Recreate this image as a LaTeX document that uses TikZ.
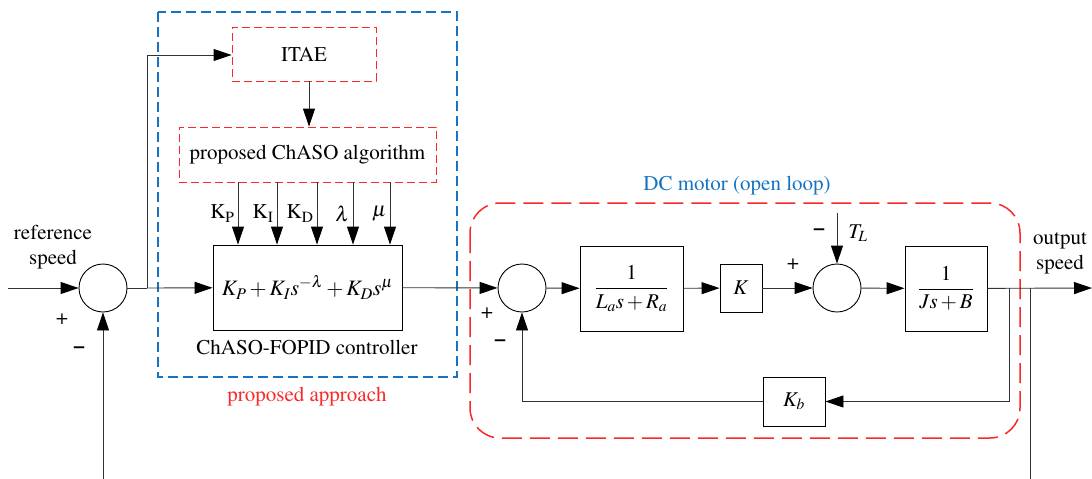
\documentclass[tikz,border=0pt]{standalone}
\usepackage[OT1]{fontenc}
\usepackage{amsmath}
\usepackage{mathptmx}
\usetikzlibrary{calc, positioning}
\usetikzlibrary{arrows.meta}

\definecolor{optred}{RGB}{250,40,40}
\definecolor{motblue}{RGB}{20,115,195}

\tikzset{
  wire/.style={line width=0.9pt, black!80},
  sig/.style={wire, -{Triangle[length=18pt,width=12pt,black]}},
  sumnode/.style={circle, draw, line width=0.9pt, minimum size=48pt, inner sep=0pt},
  blk/.style={draw, line width=0.9pt, inner sep=0pt},
  optbox/.style={draw=optred, line width=0.9pt, dash pattern=on 8pt off 4pt, inner sep=0pt},
}

\begin{document}
\begin{tikzpicture}[x=1pt, y=-1pt, font=\fontsize{21}{25}\selectfont]
\useasboundingbox (0,0) rectangle (1092,479);

% frames
\draw[motblue, line width=1.3pt, dash pattern=on 10pt off 5pt] (158,12) rectangle (457,377);
\draw[optred, line width=1.5pt, dash pattern=on 20pt off 8pt, rounded corners=30pt] (470,203) rectangle (1020,438);

% tuning part
\node[optbox, minimum width=144pt, minimum height=54pt] (itae) at (304,54) {ITAE};
\node[optbox, minimum width=257pt, minimum height=55pt] (algo) at (307.5,154.5) {proposed ChASO algorithm};
\node[blk, minimum width=189pt, minimum height=85pt, font=\fontsize{22}{26}\selectfont] (fopid) at (307.5,287.5)
  {$K_P+K_Is^{-\lambda}+K_Ds^{\mu}$};
\node at (307,347) {ChASO-FOPID controller};
\node[optred] at (307,397) {proposed approach};

% motor
\node[sumnode] (sumA) at (103,288) {};
\node[sumnode] (sumB) at (522,288) {};
\node[sumnode] (sumC) at (837,288) {};
\node[blk, minimum width=103pt, minimum height=85pt] (arm) at (631.5,288.5) {$\dfrac{1}{L_as+R_a}$};
\node[blk, minimum width=42pt, minimum height=48pt] (gainK) at (741,288) {$K$};
\node[blk, minimum width=82pt, minimum height=85pt] (mech) at (946,288.5) {$\dfrac{1}{Js+B}$};
\node[blk, minimum width=62pt, minimum height=49pt] (kb) at (794,401.5) {$K_b$};
\node[motblue] at (737,186) {DC motor (open loop)};

\coordinate (in) at (8,288);
\coordinate (tapA) at (147,288);
\coordinate (up) at (147,55);
\coordinate (tapB) at (1009,288);
\coordinate (tapC) at (1030,288);
\coordinate (out) at (1092,288);
\coordinate (fbA) at (103,479);
\coordinate (fbC) at (1030,479);
\coordinate (tl) at (837,213);

\draw[sig] (in) -- (sumA);
\draw[wire] (sumA) -- (tapA);
\draw[sig] (tapA) -- (fopid);
\draw[sig] (tapA) -- (up) -- (itae.west |- up);
\draw[sig] (itae.south -| 309,0) -- (algo.north -| 309,0);
\foreach \px/\lab in {238/{\mathrm{K_P}}, 277/{\mathrm{K_I}}, 317/{\mathrm{K_D}}, 353/{\lambda}, 390/{\mu}}
  \draw[sig] (algo.south -| \px,0) -- node[left, inner sep=3pt, black] {$\lab$} (fopid.north -| \px,0);

\draw[sig] (fopid) -- (sumB);
\draw[sig] (sumB) -- (arm);
\draw[sig] (arm) -- (gainK);
\draw[sig] (gainK) -- (sumC);
\draw[sig] (tl) -- (sumC);
\draw[sig] (sumC) -- (mech);
\draw[sig] (mech) -- (out);
\draw[sig] (tapB) |- (kb);
\draw[sig] (kb) -| (sumB);
\draw[wire] (tapC) -- (fbC);
\draw[sig] (fbA) -- (sumA);

\node at (53,247) [align=center] {reference\\speed};
\node at (1060,253) [align=center] {output\\speed};
\node at (858,233) {$T_L$};

\node at (62,319) {+};
\node at (79,350) {\textbf{--}};
\node at (487,313) {+};
\node at (500,343) {\textbf{--}};
\node at (793,264) {+};
\node at (819,232) {\textbf{--}};
\end{tikzpicture}
\end{document}
